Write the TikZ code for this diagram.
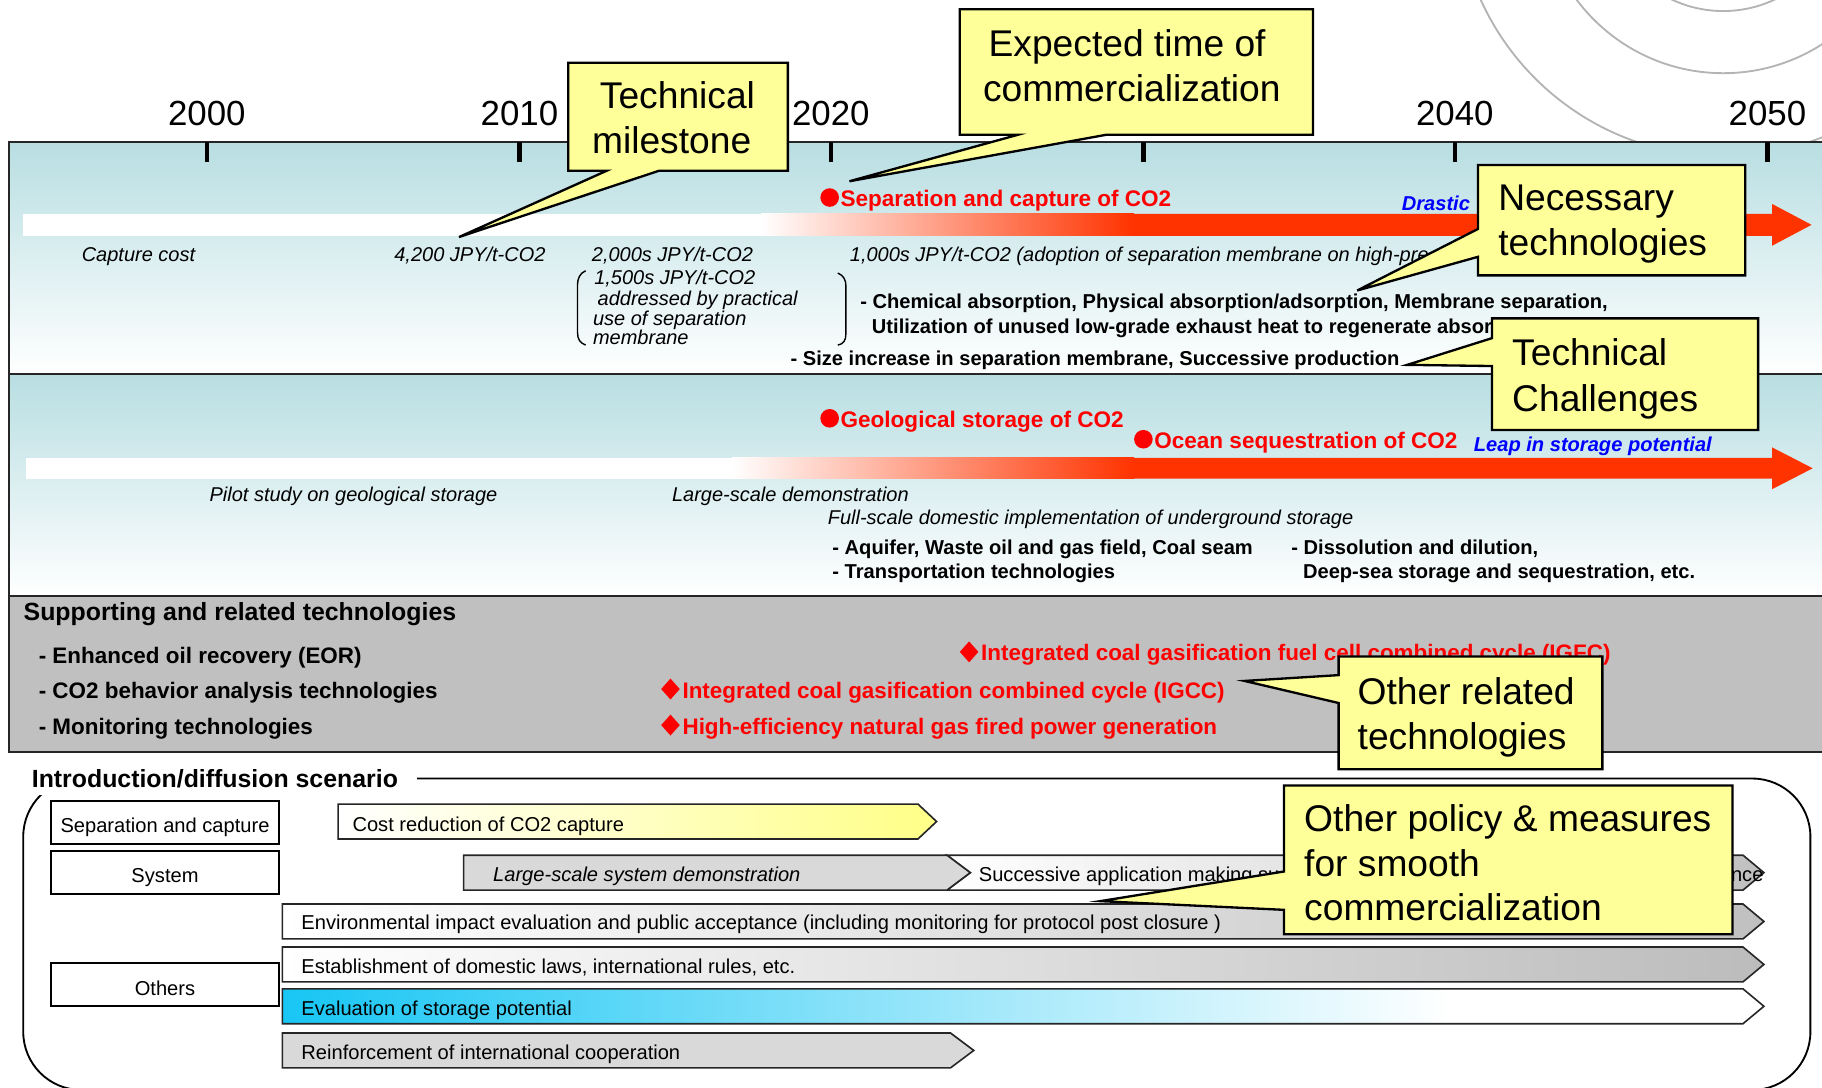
\documentclass[tikz,border=0pt]{standalone}
\usepackage{fontspec}
\setmainfont{Liberation Sans}
\usetikzlibrary{calc}

\definecolor{bandteal}{HTML}{B8DEE2}
\definecolor{hotred}{HTML}{FF3300}
\definecolor{pinkmid}{HTML}{FFB0A6}
\definecolor{txtred}{HTML}{FF0000}
\definecolor{calloutyellow}{HTML}{FFFF99}
\definecolor{bandgray}{HTML}{C0C0C0}
\definecolor{softgray}{HTML}{D9D9D9}
\definecolor{barblue}{HTML}{18C6F4}
\definecolor{linkblue}{HTML}{0000FF}
\definecolor{circgray}{HTML}{B4B4B4}

\newcommand\fsCall{\fontsize{16}{19.5}\selectfont}
\newcommand\fsYear{\fontsize{15}{18}\selectfont}
\newcommand\fsHead{\fontsize{9.7}{11}\selectfont\bfseries}
\newcommand\fsNote{\fontsize{8.6}{10}\selectfont\itshape}
\newcommand\fsBold{\fontsize{8.65}{10}\selectfont\bfseries}
\newcommand\fsBlue{\fontsize{8.65}{10}\selectfont\bfseries\itshape}
\newcommand\fsSupHead{\fontsize{10.7}{12}\selectfont\bfseries}
\newcommand\fsSup{\fontsize{9.65}{11}\selectfont\bfseries}
\newcommand\fsLow{\fontsize{8.65}{10}\selectfont}

\begin{document}
\begin{tikzpicture}[x=0.5pt, y=-0.5pt,
  txt/.style={inner sep=0pt, anchor=mid west, yshift=-0.75pt},
  note/.style={txt, font=\fsNote},
  boldtxt/.style={txt, font=\fsBold},
  redhead/.style={txt, font=\fsHead, text=txtred},
  bluehead/.style={txt, font=\fsBlue, text=linkblue},
  redlist/.style={txt, font=\fsSup, text=txtred},
  suplist/.style={txt, font=\fsSup},
  yearlbl/.style={inner sep=0pt, font=\fsYear, yshift=-0.5pt},
  bandline/.style={draw=black!85, line width=0.8pt},
  tickmark/.style={line width=2pt},
  callbox/.style={fill=calloutyellow, draw=black, line width=1pt, line join=miter},
  callline/.style={inner sep=0pt, font=\fsCall, anchor=mid west, yshift=-1.5pt},
  callmid/.style={inner sep=0pt, font=\fsCall, anchor=mid, yshift=-1.5pt},
  lowtxt/.style={txt, font=\fsLow},
  labelbox/.style={draw, line width=0.8pt, fill=white, minimum width=98pt,
    minimum height=18.5pt, inner sep=0pt, font=\fsLow, text height=9pt, text depth=0pt},
  chev/.style={draw=black!85, line width=0.7pt, line join=miter},
  reddot/.style={circle, fill=txtred, inner sep=0pt, minimum width=7.5pt, minimum height=8pt},
  bracket/.style={line width=0.6pt},
]
\useasboundingbox (0,0) rectangle (1568,936);
\clip (0,0) rectangle (1568,936);

% decorative rings behind the timeline
\foreach \r in {52,78.75,114.5}
  \draw[circgray, line width=0.8pt] (1483,-94.5) circle[radius=\r pt];

% ---------- timeline bands ----------
\shade[top color=bandteal, bottom color=white] (8,122) rectangle (1575,322);
\shade[top color=bandteal, bottom color=white] (8,322) rectangle (1575,513);
\fill[bandgray] (8,513) rectangle (1575,647);
\draw[bandline] (1575,122) -- (8,122) -- (8,647) -- (1575,647);
\draw[bandline] (8,322) -- (1575,322);
\draw[bandline] (8,513) -- (1575,513);

% year ticks and labels
\foreach \x in {178,447,715,984,1252,1521}
  \draw[tickmark] (\x,122) -- (\x,139);
\node[yearlbl] (y2000) at (178,97) {2000};
\node[yearlbl] (y2010) at (447,97) {2010};
\node[yearlbl] (y2020) at (715,97) {2020};
\node[yearlbl] (y2040) at (1252,97) {2040};
\node[yearlbl] (y2050) at (1521,97) {2050};

% ---------- capture arrow ----------
\fill[white] (20,184) rectangle (656,203);
\shade[left color=white, middle color=pinkmid, right color=hotred] (655,184) rectangle (976,203);
\fill[hotred] (975,184) -- (1525,184) -- (1525,175.5) -- (1559,193.5)
  -- (1525,211.5) -- (1525,203) -- (975,203) -- cycle;

\node[reddot] (dotsep) at (714,170) {};
\node[redhead] (sepcap) at (723,171) {Separation and capture of CO2};
\node[bluehead] (drastic) at (1206,174) {Drastic};

\node[note] (capcost) at (70,218) {Capture cost};
\node[note] (c4200) at (339,218) {4,200 JPY/t-CO2};
\node[note] (c2000) at (509,218) {2,000s JPY/t-CO2};
\node[note] (c1000) at (731,218) {1,000s JPY/t-CO2 (adoption of separation membrane on high-pre};

\node[note] (br1) at (511,238) {1,500s JPY/t-CO2};
\node[note] (br2) at (514,256) {addressed by practical};
\node[note] (br3) at (510,273) {use of separation};
\node[note] (br4) at (510,290) {membrane};
\draw[bracket] (504,233) .. controls (499,235) and (497,240) .. (497,245)
  -- (497,286) .. controls (497,292) and (499,295) .. (504,297);
\draw[bracket] (721,235) .. controls (726,237) and (728,241) .. (728,246)
  -- (728,287) .. controls (728,293) and (726,296) .. (721,297);

\node[boldtxt] (chem) at (740,259) {- Chemical absorption, Physical absorption/adsorption, Membrane separation,};
\node[boldtxt] (util) at (750,280) {Utilization of unused low-grade exhaust heat to regenerate absor};
\node[boldtxt] (sizeinc) at (680,308) {- Size increase in separation membrane, Successive production};

% ---------- storage arrow ----------
\fill[white] (22,394) rectangle (631,412);
\shade[left color=white, middle color=pinkmid, right color=hotred] (630,394) rectangle (976,412);
\fill[hotred] (975,394) -- (1525,394) -- (1525,385) -- (1560,403)
  -- (1525,421) -- (1525,412) -- (975,412) -- cycle;

\node[reddot] (dotgeo) at (714,360) {};
\node[redhead] (geo) at (723,361) {Geological storage of CO2};
\node[reddot] (dotocean) at (984,378) {};
\node[redhead] (ocean) at (993,379) {Ocean sequestration of CO2};
\node[bluehead] (leap) at (1268,382) {Leap in storage potential};

\node[note] (pilot) at (180,425) {Pilot study on geological storage};
\node[note] (largedemo) at (578,425) {Large-scale demonstration};
\node[note] (fullscale) at (712,445) {Full-scale domestic implementation of underground storage};
\node[boldtxt] (aquifer) at (716,470) {- Aquifer, Waste oil and gas field, Coal seam};
\node[boldtxt] (transport) at (716,491) {- Transportation technologies};
\node[boldtxt] (dissol) at (1111,470) {- Dissolution and dilution,};
\node[boldtxt] (deepsea) at (1121,491) {Deep-sea storage and sequestration, etc.};

% ---------- supporting technologies ----------
\node[txt, font=\fsSupHead] (suphead) at (20,527) {Supporting and related technologies};
\node[suplist] (eor) at (33,564) {- Enhanced oil recovery (EOR)};
\node[suplist] (behav) at (33,594) {- CO2 behavior analysis technologies};
\node[suplist] (monit) at (33,625) {- Monitoring technologies};

\fill[txtred] (826,561) -- (834,552) -- (842,561) -- (834,570) -- cycle;
\node[redlist] (igfc) at (844,562) {Integrated coal gasification fuel cell combined cycle (IGFC)};
\fill[txtred] (569,593) -- (577,584) -- (585,593) -- (577,602) -- cycle;
\node[redlist] (igcc) at (587,594) {Integrated coal gasification combined cycle (IGCC)};
\fill[txtred] (569,624) -- (577,615) -- (585,624) -- (577,633) -- cycle;
\node[redlist] (ngfired) at (587,625) {High-efficiency natural gas fired power generation};

% ---------- introduction / diffusion scenario ----------
\draw[line width=0.8pt, rounded corners=25pt] (20,670) rectangle (1558,938);
\node[fill=white, inner xsep=8pt, inner ysep=3pt, anchor=mid west, font=\fsSupHead, yshift=-0.75pt] (intro) at (11,671)
  {Introduction/diffusion scenario};

\node[labelbox] (lsep) at (142,707.5) {Separation and capture};
\node[labelbox] (lsys) at (142,750.5) {System};
\node[labelbox] (loth) at (142,847.5) {Others};

\path[chev, left color=white, right color={rgb,255:red,255;green,255;blue,135}]
  (291,692) -- (790,692) -- (806,707) -- (790,722) -- (291,722) -- cycle;
\node[lowtxt] (costred) at (303,709) {Cost reduction of CO2 capture};

\path[chev, left color=white, right color=bandgray]
  (815,736) -- (1500,736) -- (1518,751) -- (1500,766) -- (815,766) -- (835,751) -- cycle;
\path[chev, fill=softgray]
  (399,736) -- (815,736) -- (835,751) -- (815,766) -- (399,766) -- cycle;
\node[txt, font=\fsLow\itshape] (sysdemo) at (424,752) {Large-scale system demonstration};
\node[lowtxt] (success) at (842,752) {Successive application making su};
\node[inner sep=0pt, anchor=mid east, font=\fsLow, yshift=-0.75pt] (successend) at (1518,752) {nce};

\path[chev, left color=white, right color=bandgray]
  (243,778) -- (1500,778) -- (1518,793) -- (1500,808) -- (243,808) -- cycle;
\node[lowtxt] (envimp) at (259,793) {Environmental impact evaluation and public acceptance (including monitoring for protocol post closure )};

\path[chev, left color=white, right color={rgb,255:red,188;green,188;blue,188}]
  (243,815) -- (1500,815) -- (1518,830) -- (1500,845) -- (243,845) -- cycle;
\node[lowtxt] (laws) at (259,831) {Establishment of domestic laws, international rules, etc.};

% blue bar fades out to white well before its tip
\begin{scope}
  \clip (243,851) -- (1500,851) -- (1518,866) -- (1500,881) -- (243,881) -- cycle;
  \fill[white] (1240,851) rectangle (1520,881);
  \shade[left color=barblue, middle color=barblue!45!white, right color=white] (243,851) rectangle (1250,881);
\end{scope}
\path[chev] (243,851) -- (1500,851) -- (1518,866) -- (1500,881) -- (243,881) -- cycle;
\node[lowtxt] (evalpot) at (259,867) {Evaluation of storage potential};

\path[chev, fill=softgray]
  (243,889) -- (818,889) -- (838,904) -- (818,919) -- (243,919) -- cycle;
\node[lowtxt] (intlcoop) at (259,905) {Reinforcement of international cooperation};

% ---------- callouts ----------
\coordinate (tipMilestone) at (395,204);
\filldraw[callbox] (489,54) -- (678,54) -- (678,147) -- (567,147) -- (tipMilestone)
  -- (522,147) -- (489,147) -- cycle;
\node[callmid] (cm1) at (583,85) {Technical};
\node[callmid] (cm2) at (578,124) {milestone};

\coordinate (tipExpected) at (731,156);
\filldraw[callbox] (826,8) -- (1130,8) -- (1130,116) -- (952,116) -- (tipExpected)
  -- (876,116) -- (826,116) -- cycle;
\node[callmid] (ce1) at (970,40) {Expected time of};
\node[callmid] (ce2) at (974,79) {commercialization};

\coordinate (tipNecessary) at (1168,250);
\filldraw[callbox] (1272,142) -- (1502,142) -- (1502,237) -- (1272,237) -- (1272,221)
  -- (tipNecessary) -- (1272,197) -- cycle;
\node[callline] (cn1) at (1289,173) {Necessary};
\node[callline] (cn2) at (1289,212) {technologies};

\coordinate (tipChallenge) at (1211,314);
\filldraw[callbox] (1284,274) -- (1513,274) -- (1513,370) -- (1284,370) -- (1284,315)
  -- (tipChallenge) -- (1284,291) -- cycle;
\node[callline] (ct1) at (1301,306) {Technical};
\node[callline] (ct2) at (1301,346) {Challenges};

\coordinate (tipRelated) at (1071,586);
\filldraw[callbox] (1152,565) -- (1379,565) -- (1379,662) -- (1152,662) -- (1152,605)
  -- (tipRelated) -- (1152,581) -- cycle;
\node[callline] (co1) at (1168,598) {Other related};
\node[callline] (co2) at (1168,637) {technologies};

\coordinate (tipPolicy) at (947,775.5);
\filldraw[callbox] (1105,676) -- (1491,676) -- (1491,804) -- (1105,804) -- (1105,783)
  -- (tipPolicy) -- (1105,750) -- cycle;
\node[callline] (cp1) at (1122,707) {Other policy \& measures};
\node[callline] (cp2) at (1122,746) {for smooth};
\node[callline] (cp3) at (1122,784) {commercialization};

\end{tikzpicture}
\end{document}
